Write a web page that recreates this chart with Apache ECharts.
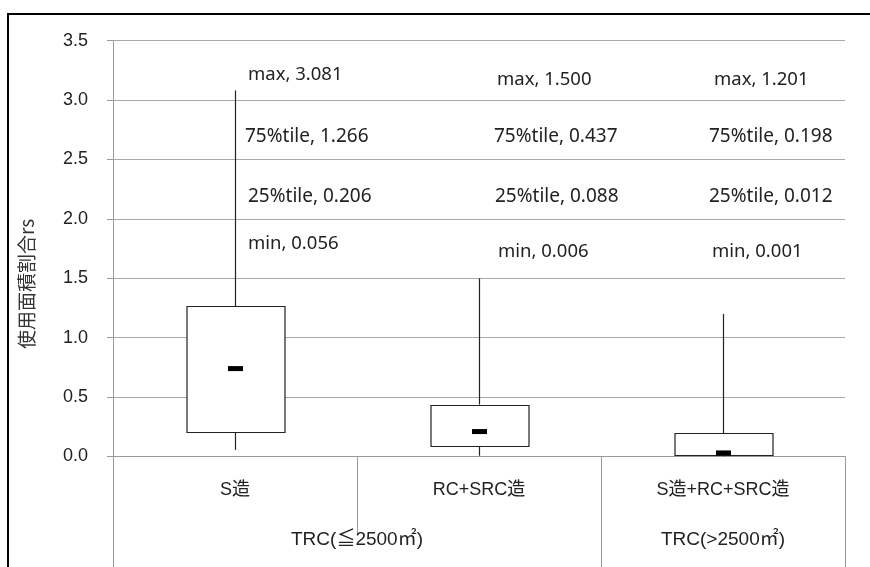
<!DOCTYPE html>
<html>
<head>
<meta charset="utf-8">
<script src="https://cdn.jsdelivr.net/npm/echarts@6/dist/echarts.min.js"></script>
<style>
  html, body { margin: 0; padding: 0; background: #fff; }
  #chart { width: 870px; height: 567px; }
</style>
</head>
<body>
<div id="chart"></div>
<script>
// Usage-area ratio rs by structure type, grouped by TRC floor-area class
const categories = ['S造', 'RC+SRC造', 'S造+RC+SRC造'];
const groupNames = ['TRC(≦2500㎡)', 'TRC(>2500㎡)'];
const groupBounds = [0, 2, 3];          // category boundaries of each group
const minVals = [0.056, 0.006, 0.001];
const q1Vals = [0.206, 0.088, 0.012];
const medianVals = [0.74, 0.21, 0.03];
const q3Vals = [1.266, 0.437, 0.198];
const maxVals = [3.081, 1.500, 1.201];
const yTicks = [0, 0.5, 1.0, 1.5, 2.0, 2.5, 3.0, 3.5];

const FONT = 'Arial, "Liberation Sans", "Noto Sans CJK JP", sans-serif';
const TEXT_FONT = '"Noto Sans", "Noto Sans CJK JP", sans-serif';
const GRID_GRAY = '#a8a8a8';
const AXIS_GRAY = '#9a9a9a';

// where the stat annotations sit: y in data units per row, x offset (px) per category
const labelRows = [
  { name: 'max', vals: maxVals, y: [3.21, 3.17, 3.17], size: 18.5 },
  { name: '75%tile', vals: q3Vals, y: [2.69, 2.69, 2.69], size: 19 },
  { name: '25%tile', vals: q1Vals, y: [2.19, 2.19, 2.19], size: 19 },
  { name: 'min', vals: minVals, y: [1.79, 1.72, 1.72], size: 18.5 }
];
const labelDx = [[13, 10, 13, 13], [18, 15, 16, 19], [-9, -14, -14, -11]];

const boxData = categories.map((c, i) =>
  [i, minVals[i], q1Vals[i], medianVals[i], q3Vals[i], maxVals[i]]);

const labelData = [];
labelRows.forEach((row, r) => {
  categories.forEach((c, i) => {
    labelData.push([i, row.y[i], row.name + ', ' + row.vals[i].toFixed(3), r]);
  });
});

function renderBox(params, api) {
  const idx = api.value(0);
  const pMin = api.coord([idx, api.value(1)]);
  const pQ1 = api.coord([idx, api.value(2)]);
  const pMed = api.coord([idx, api.value(3)]);
  const pQ3 = api.coord([idx, api.value(4)]);
  const pMax = api.coord([idx, api.value(5)]);
  const bw = api.size([1, 0])[0] * 0.4;
  const cx = Math.round(pMed[0]) + 0.5;
  const stroke = { stroke: '#222', lineWidth: 1.2 };
  return {
    type: 'group',
    children: [
      { type: 'line', shape: { x1: cx, y1: pMax[1], x2: cx, y2: pQ3[1] }, style: stroke },
      { type: 'line', shape: { x1: cx, y1: pQ1[1], x2: cx, y2: pMin[1] }, style: stroke },
      {
        type: 'rect',
        shape: { x: Math.round(cx - bw / 2), y: Math.round(pQ3[1]) + 0.5,
                 width: Math.round(bw), height: Math.round(pQ1[1] - pQ3[1]) },
        style: { fill: '#fff', stroke: '#222', lineWidth: 1.2 }
      },
      {
        type: 'rect',
        shape: { x: cx - 7.5, y: pMed[1] - 2.5, width: 15, height: 5 },
        style: { fill: '#000' }
      }
    ]
  };
}

function renderLabel(params, api) {
  const idx = api.value(0);
  const row = api.value(3);
  const p = api.coord([idx, api.value(1)]);
  return {
    type: 'text',
    x: p[0] + labelDx[idx][row],
    y: p[1],
    style: {
      text: labelData[params.dataIndex][2],
      fontFamily: TEXT_FONT,
      fontSize: labelRows[row].size,
      fill: '#222',
      align: 'left',
      verticalAlign: 'middle'
    }
  };
}

const chart = echarts.init(document.getElementById('chart'), null, { renderer: 'canvas' });
chart.setOption({
  backgroundColor: '#fff',
  animation: false,
  grid: { left: 113, right: 25, top: 40.7, bottom: 110.5 },
  xAxis: [
    {
      type: 'category',
      data: categories,
      boundaryGap: true,
      axisLine: { show: true, lineStyle: { color: AXIS_GRAY, width: 1 } },
      axisTick: { show: true, interval: 0, length: 78, lineStyle: { color: AXIS_GRAY } },
      axisLabel: { interval: 0, margin: 25, fontSize: 18, color: '#222', fontFamily: FONT },
      splitLine: { show: false }
    },
    {
      type: 'value',
      min: 0,
      max: 3,
      position: 'bottom',
      axisLine: { show: false },
      axisTick: { show: true, customValues: groupBounds, length: 112, lineStyle: { color: AXIS_GRAY } },
      axisLabel: {
        customValues: [1, 2.5],
        margin: 74,
        fontSize: 19,
        color: '#222',
        fontFamily: FONT,
        formatter: v => (v < 2 ? groupNames[0] : groupNames[1])
      },
      splitLine: { show: false }
    }
  ],
  yAxis: {
    type: 'value',
    min: 0,
    max: 3.5,
    interval: 0.5,
    axisLine: { show: true, lineStyle: { color: AXIS_GRAY, width: 1 } },
    axisTick: { show: true, length: 6, lineStyle: { color: AXIS_GRAY } },
    axisLabel: {
      margin: 25, fontSize: 18, color: '#222', fontFamily: FONT,
      customValues: yTicks,
      formatter: v => v.toFixed(1)
    },
    splitLine: { show: true, lineStyle: { color: GRID_GRAY, width: 1 } }
  },
  graphic: [
    {
      type: 'rect',
      x: 8, y: 14,
      shape: { x: 0, y: 0, width: 900, height: 600 },
      style: { fill: 'none', stroke: '#000', lineWidth: 2 },
      silent: true
    },
    {
      type: 'text',
      x: 27, y: 284,
      rotation: Math.PI / 2,
      style: {
        text: '使用面積割合rs',
        fontFamily: '"Noto Sans CJK JP", sans-serif',
        fontSize: 19,
        fill: '#333',
        align: 'center',
        verticalAlign: 'middle'
      }
    }
  ],
  series: [
    {
      type: 'custom',
      xAxisIndex: 0,
      renderItem: renderBox,
      encode: { x: 0, y: [1, 2, 3, 4, 5] },
      data: boxData,
      z: 3
    },
    {
      type: 'custom',
      xAxisIndex: 0,
      renderItem: renderLabel,
      encode: { x: 0, y: 1 },
      data: labelData,
      z: 4
    }
  ]
});
</script>
</body>
</html>
